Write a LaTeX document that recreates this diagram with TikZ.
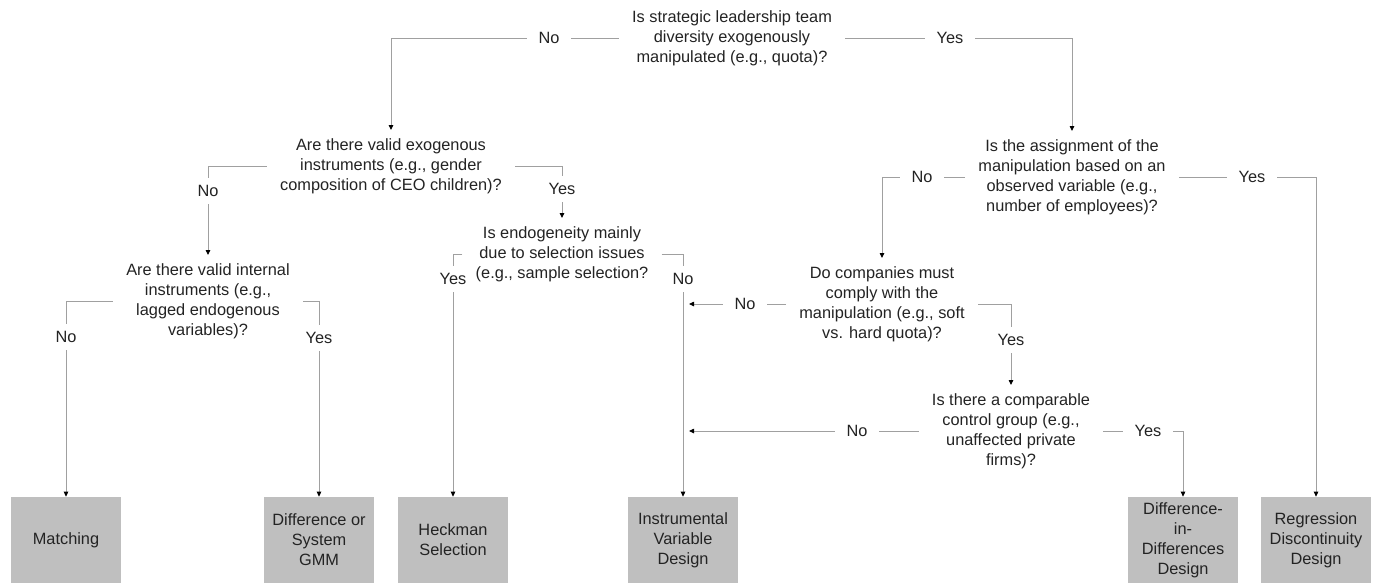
\documentclass[tikz,border=0pt]{standalone}
\usepackage{fontspec}
\setmainfont{Liberation Sans}
\usetikzlibrary{arrows.meta}
\definecolor{linegray}{RGB}{160,160,160}
\definecolor{boxgray}{RGB}{191,191,191}
\definecolor{inkgray}{RGB}{35,35,35}
\pgfdeclarelayer{edgelayer}
\pgfdeclarelayer{nodelayer}
\pgfsetlayers{edgelayer,nodelayer,main}
\tikzstyle{question}=[align=center,inner xsep=0.26cm,inner ysep=0.16cm,text=inkgray,font=\fontsize{9.3}{11.4}\selectfont]
\tikzstyle{answer}=[fill=white,inner xsep=0.24cm,inner ysep=0.14cm,text=inkgray,font=\fontsize{9.3}{11.4}\selectfont]
\tikzstyle{answerdown}=[answer,inner xsep=0.04cm]
\tikzstyle{design}=[fill=boxgray,align=center,minimum width=2.2cm,minimum height=1.72cm,inner sep=0pt,text=inkgray,font=\fontsize{9.3}{11.4}\selectfont]
\tikzstyle{simple}=[-,draw=linegray,line width=0.5pt]
\tikzstyle{flow}=[simple,-{Triangle[length=1mm,width=0.9mm,color=black]}]

\begin{document}
\begin{tikzpicture}[x=0.02cm,y=-0.02cm]
	\useasboundingbox (0,0) rectangle (1375,583);
	\begin{pgfonlayer}{nodelayer}
		% questions
		\node [style=question] (q1) at (732,38) {Is strategic leadership team\\diversity exogenously\\manipulated (e.g., quota)?};
		\node [style=question] (q2) at (391,166) {Are there valid exogenous\\instruments (e.g., gender\\composition of CEO children)?};
		\node [style=question] (q3) at (1072,177) {Is the assignment of the\\manipulation based on an\\observed variable (e.g.,\\number of employees)?};
		\node [style=question] (q4) at (882,304) {Do companies must\\comply with the\\manipulation (e.g., soft\\vs. hard quota)?};
		\node [style=question] (q5) at (1011,431) {Is there a comparable\\control group (e.g.,\\unaffected private\\firms)?};
		\node [style=question] (q6) at (208,301) {Are there valid internal\\instruments (e.g.,\\lagged endogenous\\variables)?};
		\node [style=question] (q7) at (562,254) {Is endogeneity mainly\\due to selection issues\\(e.g., sample selection?};
		% designs
		\node [style=design] (match) at (66,540) {Matching};
		\node [style=design] (gmm) at (319,540) {Difference or\\System\\GMM};
		\node [style=design] (heck) at (453,540) {Heckman\\Selection};
		\node [style=design] (iv) at (683,540) {Instrumental\\Variable\\Design};
		\node [style=design] (did) at (1183,540) {Difference-\\in-\\Differences\\Design};
		\node [style=design] (reg) at (1316,540) {Regression\\Discontinuity\\Design};
		% answers
		\node [style=answer] (no1) at (549,38) {No};
		\node [style=answer] (yes1) at (950,38) {Yes};
		\node [style=answerdown] (no2) at (208,191) {No};
		\node [style=answerdown] (yes2) at (562,189) {Yes};
		\node [style=answer] (no3) at (922,177) {No};
		\node [style=answer] (yes3) at (1252,177) {Yes};
		\node [style=answer] (no4) at (745,304) {No};
		\node [style=answerdown] (yes4) at (1011,340) {Yes};
		\node [style=answer] (no5) at (857,431) {No};
		\node [style=answer] (yes5) at (1148,431) {Yes};
		\node [style=answerdown] (no6) at (66,337) {No};
		\node [style=answerdown] (yes6) at (319,338) {Yes};
		\node [style=answerdown] (yes7) at (453,279) {Yes};
		\node [style=answerdown] (no7) at (683,279) {No};
		\coordinate (ivin1) at ([xshift=0.12cm]q4.west -| iv.north);
		\coordinate (ivin2) at ([xshift=0.12cm]q5.west -| iv.north);
	\end{pgfonlayer}
	\begin{pgfonlayer}{edgelayer}
		\draw [style=flow] (q1.west) -| (q2.north);
		\draw [style=flow] (q1.east) -| (q3.north);
		\draw [style=flow] (q2.west) -| (q6.north);
		\draw [style=flow] (q2.east) -| (q7.north);
		\draw [style=flow] (q3.west) -| (q4.north);
		\draw [style=flow] (q3.east) -| (reg.north);
		\draw [style=flow] (q4.west) -- (ivin1);
		\draw [style=flow] (q4.east) -| (q5.north);
		\draw [style=flow] (q5.west) -- (ivin2);
		\draw [style=flow] (q5.east) -| (did.north);
		\draw [style=flow] (q6.west) -| (match.north);
		\draw [style=flow] (q6.east) -| (gmm.north);
		\draw [style=flow] (q7.west) -| (heck.north);
		\draw [style=flow] (q7.east) -| (iv.north);
	\end{pgfonlayer}
\end{tikzpicture}
\end{document}
